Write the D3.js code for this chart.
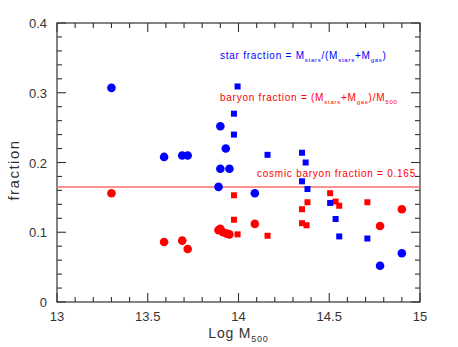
<!DOCTYPE html>
<html>
<head>
<meta charset="utf-8">
<script src="https://cdn.jsdelivr.net/npm/d3@7"></script>
<style>
  body { margin: 0; background: #fff; }
  text { font-family: "Liberation Sans", Arial, sans-serif; }
</style>
</head>
<body>
<svg id="chart" width="458" height="347"></svg>
<script>
// ---- data ----
var starCircleMass = [13.30, 13.59, 13.69, 13.72, 13.89, 13.90, 13.90, 13.93, 13.95, 14.09, 14.78, 14.90];
var starCircleFrac = [0.307, 0.208, 0.210, 0.210, 0.165, 0.252, 0.191, 0.220, 0.191, 0.156, 0.052, 0.070];
var baryonCircleMass = [13.30, 13.59, 13.69, 13.72, 13.89, 13.90, 13.915, 13.935, 13.95, 14.09, 14.78, 14.90];
var baryonCircleFrac = [0.156, 0.086, 0.088, 0.076, 0.103, 0.105, 0.100, 0.098, 0.097, 0.112, 0.109, 0.133];

var starSquareMass = [13.995, 13.975, 13.975, 14.16, 14.35, 14.37, 14.35, 14.38, 14.505, 14.535, 14.555, 14.71];
var starSquareFrac = [0.309, 0.270, 0.240, 0.211, 0.214, 0.200, 0.173, 0.162, 0.142, 0.119, 0.094, 0.091];
var baryonSquareMass = [13.975, 13.975, 13.995, 14.16, 14.35, 14.35, 14.375, 14.38, 14.505, 14.535, 14.555, 14.71];
var baryonSquareFrac = [0.153, 0.118, 0.097, 0.095, 0.133, 0.113, 0.110, 0.143, 0.156, 0.144, 0.138, 0.143];

var cosmicFraction = 0.165;
var xTicks = [13, 13.5, 14, 14.5, 15];
var yTicks = [0, 0.1, 0.2, 0.3, 0.4];

// ---- layout ----
var margin = {top: 23, right: 38, bottom: 45, left: 57},
    width = 458 - margin.left - margin.right,
    height = 347 - margin.top - margin.bottom,
    axisColor = "#333",
    blue = "#0000ff",
    red = "#ff0000";

var svg = d3.select("#chart");
var g = svg.append("g").attr("transform", "translate(" + margin.left + "," + margin.top + ")");

var x = d3.scaleLinear().domain([13, 15]).range([0, width]);
var y = d3.scaleLinear().domain([0, 0.4]).range([height, 0]);

// frame
g.append("rect")
  .attr("width", width).attr("height", height)
  .attr("fill", "none").attr("stroke", axisColor).attr("stroke-width", 1.2);

// minor + major ticks, pointing inward on all four sides
var xMinor = d3.range(13, 15.0001, 0.1);
var yMinor = d3.range(0, 0.40001, 0.02);
function isMajor(v, step) { return Math.abs(v / step - Math.round(v / step)) < 1e-6; }

var ticks = g.append("g").attr("stroke", axisColor).attr("stroke-width", 1.1);
xMinor.forEach(function(v) {
  var len = isMajor(v, 0.5) ? 9 : 5;
  ticks.append("line").attr("x1", x(v)).attr("x2", x(v)).attr("y1", height).attr("y2", height - len);
  ticks.append("line").attr("x1", x(v)).attr("x2", x(v)).attr("y1", 0).attr("y2", len);
});
yMinor.forEach(function(v) {
  var len = isMajor(v, 0.1) ? 9 : 5;
  ticks.append("line").attr("y1", y(v)).attr("y2", y(v)).attr("x1", 0).attr("x2", len);
  ticks.append("line").attr("y1", y(v)).attr("y2", y(v)).attr("x1", width).attr("x2", width - len);
});

// tick labels
g.selectAll(".xlab").data(xTicks).enter().append("text")
  .attr("class", "xlab")
  .attr("x", function(d) { return x(d); })
  .attr("y", height + 19)
  .attr("text-anchor", "middle")
  .attr("font-size", 13)
  .attr("fill", axisColor)
  .text(function(d) { return d; });

g.selectAll(".ylab").data(yTicks).enter().append("text")
  .attr("class", "ylab")
  .attr("x", -10)
  .attr("y", function(d) { return y(d) + 5; })
  .attr("text-anchor", "end")
  .attr("font-size", 13)
  .attr("fill", axisColor)
  .text(function(d) { return d; });

// axis titles
var xt = svg.append("text")
  .attr("x", margin.left + width / 2)
  .attr("y", 338)
  .attr("text-anchor", "middle")
  .attr("font-size", 14)
  .attr("letter-spacing", 0.8)
  .attr("fill", axisColor);
xt.append("tspan").text("Log M");
xt.append("tspan").attr("font-size", 9).attr("dy", 4).text("500");

svg.append("text")
  .attr("transform", "translate(19,170) rotate(-90)")
  .attr("text-anchor", "middle")
  .attr("font-size", 15)
  .attr("letter-spacing", 1.5)
  .attr("fill", axisColor)
  .text("fraction");

// cosmic baryon fraction line
g.append("line")
  .attr("x1", 0).attr("x2", width)
  .attr("y1", y(cosmicFraction)).attr("y2", y(cosmicFraction))
  .attr("stroke", "#ff6f6f").attr("stroke-width", 1.5);

// points
function circles(xs, ys, col) {
  g.append("g").selectAll("circle").data(xs).enter().append("circle")
    .attr("cx", function(d) { return x(d); })
    .attr("cy", function(d, i) { return y(ys[i]); })
    .attr("r", 4.3)
    .attr("fill", col);
}
function squares(xs, ys, col) {
  var s = 6;
  g.append("g").selectAll("rect").data(xs).enter().append("rect")
    .attr("x", function(d) { return x(d) - s / 2; })
    .attr("y", function(d, i) { return y(ys[i]) - s / 2; })
    .attr("width", s).attr("height", s)
    .attr("fill", col);
}
circles(baryonCircleMass, baryonCircleFrac, red);
squares(baryonSquareMass, baryonSquareFrac, red);
circles(starCircleMass, starCircleFrac, blue);
squares(starSquareMass, starSquareFrac, blue);

// annotations
function label(px, py, col, parts) {
  var t = svg.append("text")
    .attr("x", px).attr("y", py)
    .attr("font-size", 10)
    .attr("letter-spacing", 0.75)
    .attr("fill", col);
  parts.forEach(function(p) {
    var ts = t.append("tspan").text(p[0]);
    if (p[1]) ts.attr("font-size", 6).attr("dy", 2.5);
    else if (p[2]) ts.attr("dy", -2.5);
  });
}
label(220, 59, blue, [["star fraction = M"], ["stars", 1], ["/(M", 0, 1], ["stars", 1], ["+M", 0, 1], ["gas", 1], [")", 0, 1]]);
label(220, 101, red, [["baryon fraction = (M"], ["stars", 1], ["+M", 0, 1], ["gas", 1], [")/M", 0, 1], ["500", 1]]);
label(257, 177, red, [["cosmic baryon fraction = 0.165"]]);
</script>
</body>
</html>
